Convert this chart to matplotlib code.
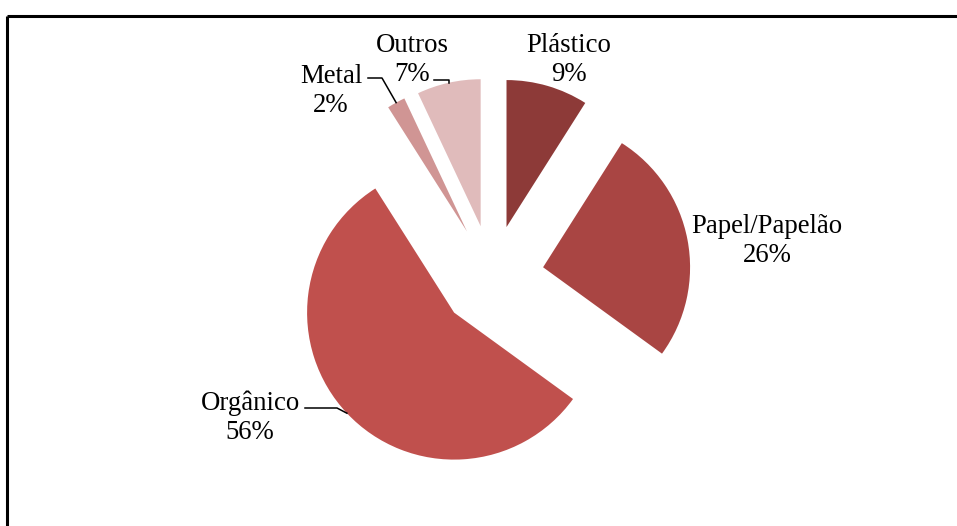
import numpy as np
import matplotlib.pyplot as plt

# composição dos resíduos (%), sentido horário a partir do topo
categorias = ["Plástico", "Papel/Papelão", "Orgânico", "Metal", "Outros"]
percentuais = [9, 26, 56, 2, 7]
cores = ["#8D3A38", "#A94543", "#C0504D", "#D09594", "#E0BBBB"]

plt.rcParams["font.family"] = ["Liberation Serif", "DejaVu Serif"]

W, H = 957, 526
fig = plt.figure(figsize=(W / 100, H / 100), dpi=100)
ax = fig.add_axes([0, 0, 1, 1])

R = 147
centro = (492, H - 277)
# explode do matplotlib é em unidades de dados (não relativo ao raio)
wedges, _ = ax.pie(percentuais, colors=cores, startangle=90, counterclock=False,
                   explode=[52] * len(percentuais), radius=R, center=centro,
                   wedgeprops=dict(linewidth=0))
ax.set_xlim(0, W)
ax.set_ylim(0, H)
ax.set_aspect("equal")
ax.axis("off")

# moldura (só topo e esquerda ficam visíveis)
ax.plot([7, W + 5], [H - 16, H - 16], color="black", lw=2.2, solid_capstyle="butt")
ax.plot([7, 7], [-5, H - 16], color="black", lw=2.2, solid_capstyle="butt")


def ponto_arco(w):
    # ponto do arco no ângulo médio da fatia
    a = np.deg2rad((w.theta1 + w.theta2) / 2)
    return w.center[0] + w.r * np.cos(a), w.center[1] + w.r * np.sin(a)


# rótulo: centro do texto, e linha guia (x inicial, x do cotovelo, y)
rotulos = {
    "Plástico": ((569, 60), None),
    "Papel/Papelão": ((767, 241), None),
    "Orgânico": ((250, 418), (305, 337, 408)),
    "Metal": ((331, 91), (368, 382, 78)),
    "Outros": ((412, 60), (434, None, 80)),
}

for w, nome, p in zip(wedges, categorias, percentuais):
    (tx, ty), guia = rotulos[nome]
    ax.text(tx, H - ty, f"{nome}\n{p}%", ha="center", va="center",
            fontsize=19.3, linespacing=1.2)
    if guia is not None:
        px, py = ponto_arco(w)
        x0, xe, yl = guia
        if xe is None:
            xe = px
        ax.plot([x0, xe, px], [H - yl, H - yl, py], color="black", lw=1.1)

fig.savefig("out.png", dpi=100)
